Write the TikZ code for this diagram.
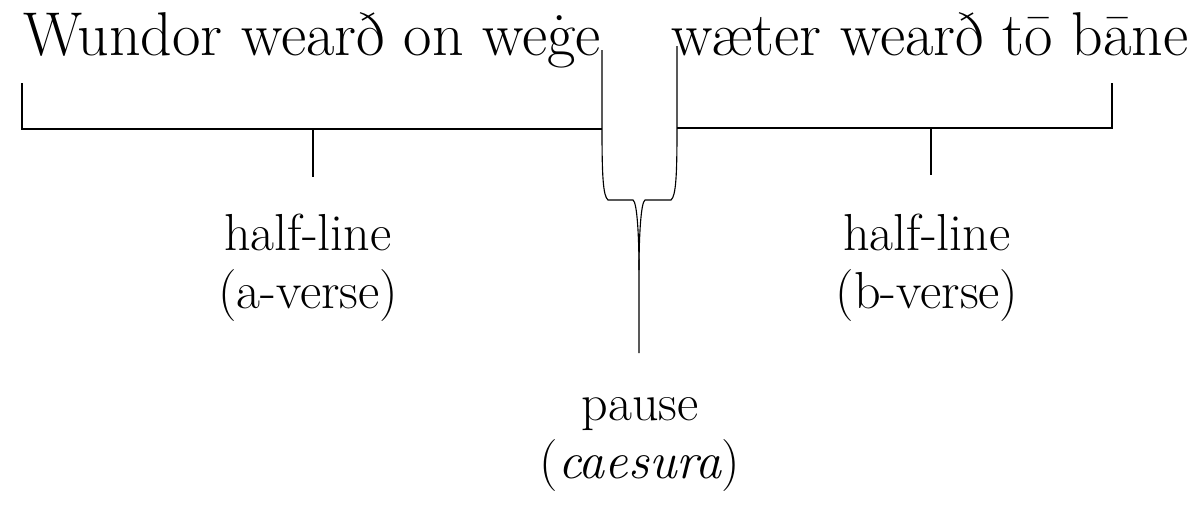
\documentclass[tikz,border=0pt]{standalone}
\usepackage{fontspec}

\begin{document}
\begin{tikzpicture}[
  x=0.025cm, y=-0.025cm,
  every node/.style={inner sep=0pt},
  verse/.style={font=\fontsize{44}{52}\selectfont, anchor=base},
  gloss/.style={font=\fontsize{37}{44}\selectfont, anchor=base},
  brace/.style={draw, line width=0.8pt}]

  \useasboundingbox (0,0) rectangle (1196,516);

  %% ---------------- the line ----------------
  \node[verse] (verseA) at (312, 55) {Wundor wearð on weġe};
  \node[verse] (verseB) at (930, 55) {wæter wearð tō bāne};

  %% ---------------- a-verse ----------------
  % bracket corners
  \coordinate (aTL) at (22, 83);
  \coordinate (aBL) at (22, 129);
  \coordinate (aBR) at (602, 129);
  \coordinate (aMid) at (313, 129);
  \coordinate (aTick) at (313, 177);
  \draw[brace] (aTL) -- (aBL) -- (aBR);
  \draw[brace] (aMid) -- (aTick);
  % labels
  \node[gloss] (halfA) at (308, 250) {half-line};
  \node[gloss] (versA) at (308, 308) {(a-verse)};

  %% ---------------- b-verse ----------------
  \coordinate (bTR) at (1112, 83);
  \coordinate (bBR) at (1112, 128);
  \coordinate (bBL) at (677, 128);
  \coordinate (bMid) at (931, 128);
  \coordinate (bTick) at (931, 175);
  \draw[brace] (bTR) -- (bBR) -- (bBL);
  \draw[brace] (bMid) -- (bTick);
  \node[gloss] (halfB) at (927, 250) {half-line};
  \node[gloss] (versB) at (927, 308) {(b-verse)};

  %% ---------------- caesura ----------------
  % the gap bracket: two verticals narrowing into one spike
  \coordinate (cTL) at (602, 50);
  \coordinate (cTR) at (677, 46);
  \coordinate (cTip) at (639, 270);
  \coordinate (cEnd) at (639, 353);
  \draw[brace] (cTL) -- (aBR)
    .. controls (602, 175) and (603, 196) .. (608, 200) -- (633, 200)
    .. controls (637, 202) and (639, 235) .. (cTip) -- (cEnd);
  \draw[brace] (cTR) -- (bBL)
    .. controls (677, 175) and (676, 196) .. (671, 200) -- (645, 200)
    .. controls (641, 202) and (639, 235) .. (cTip);
  \node[gloss] (pause) at (640, 420) {pause};
  \node[gloss] (caesura) at (640, 478) {(\textit{caesura})};

\end{tikzpicture}
\end{document}
